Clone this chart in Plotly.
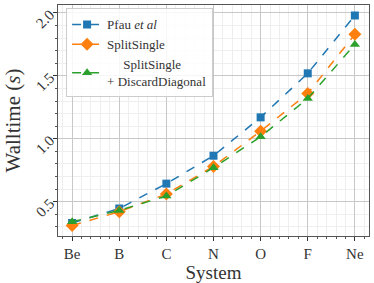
import plotly.graph_objects as go

systems = ["Be", "B", "C", "N", "O", "F", "Ne"]
pfau = [0.33, 0.445, 0.643, 0.865, 1.17, 1.52, 1.98]
split_single = [0.31, 0.42, 0.56, 0.78, 1.06, 1.36, 1.83]
split_discard = [0.34, 0.43, 0.545, 0.77, 1.016, 1.32, 1.75]

names = ["Pfau <i>et al</i>", "SplitSingle",
         "&nbsp;&nbsp;&nbsp;&nbsp;&nbsp;SplitSingle<br>+ DiscardDiagonal"]
colors = ["#1f77b4", "#ff7f0e", "#2ca02c"]
symbols = ["square", "diamond", "triangle-up"]
sizes = [8, 10, 9]

xs = list(range(len(systems)))
fig = go.Figure()
for vals, nm, c, s, sz in zip([pfau, split_single, split_discard], names, colors, symbols, sizes):
    fig.add_trace(go.Scatter(
        x=xs, y=vals, name=nm, mode="lines+markers",
        line=dict(color=c, width=1.5, dash="dash"),
        marker=dict(color=c, symbol=s, size=sz, line=dict(width=0)),
    ))

font = "Liberation Serif"
fig.update_layout(
    width=374, height=283,
    margin=dict(l=58, r=5, t=5, b=47, autoexpand=False),
    plot_bgcolor="white", paper_bgcolor="white",
    font=dict(family=font, color="#333", size=13),
    showlegend=True,
    legend=dict(x=0.026, y=0.985, xanchor="left", yanchor="top",
                bgcolor="rgba(255,255,255,0.85)", bordercolor="#cccccc", borderwidth=1,
                font=dict(size=13, family=font, color="#333"), tracegroupgap=2, itemwidth=30),
    xaxis=dict(
        range=[-0.3, 6.3], tickmode="array", tickvals=xs, ticktext=systems,
        showgrid=True, gridcolor="#c8c8c8", gridwidth=1,
        ticks="outside", ticklen=4, tickcolor="#333",
        showline=True, linecolor="#555", linewidth=1, mirror=True,
        tickfont=dict(size=15, family=font),
        title=dict(text="System", font=dict(size=19, family=font), standoff=2),
        minor=dict(dtick=0.2, tick0=0, showgrid=True, gridcolor="#eeeeee", ticks="outside", ticklen=2, tickcolor="#555"),
        zeroline=False, automargin=False,
    ),
    yaxis=dict(
        range=[0.2265, 2.0635], tickvals=[0.5, 1.0, 1.5, 2.0], ticktext=["0.5", "1.0", "1.5", "2.0"],
        tickangle=-45,
        showgrid=True, gridcolor="#c8c8c8", gridwidth=1,
        ticks="outside", ticklen=4, tickcolor="#333",
        showline=True, linecolor="#555", linewidth=1, mirror=True,
        tickfont=dict(size=15, family=font),
        title=dict(text="Walltime (<i>s</i>)", font=dict(size=21, family=font), standoff=6),
        minor=dict(dtick=0.1, tick0=0, showgrid=True, gridcolor="#eeeeee", ticks="outside", ticklen=2, tickcolor="#555"),
        zeroline=False, automargin=False,
    ),
)
fig.write_html("out.html", config={"displayModeBar": False},
               post_script="document.body.style.margin='0';document.body.style.padding='0';")
